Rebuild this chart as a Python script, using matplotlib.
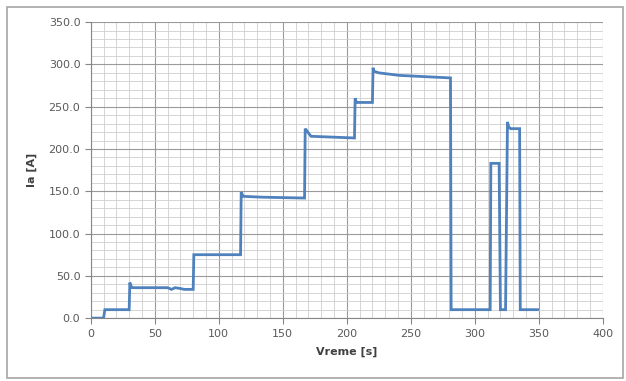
import matplotlib.pyplot as plt
from matplotlib.patches import Rectangle

# time [s] and current [A]
t = [0, 10, 11, 30, 30.5, 32, 40, 60, 63, 66, 70, 73, 80, 80.5, 117, 117.5, 119, 134, 166.5,
     167, 167.5, 172, 206, 206.5, 207.5, 220, 220.5, 221, 225, 241, 281, 281.5,
     312, 312.5, 319, 320, 324, 325.5, 326.5, 328, 335, 335.5, 349]
ia = [0, 0, 10, 10, 42, 36, 36, 36, 34, 36, 35, 34, 34, 75, 75, 149, 144, 143, 142,
      142, 224, 215, 213, 260, 255, 255, 296, 292, 290, 287, 284, 10,
      10, 183, 183, 10, 10, 232, 226, 224, 224, 10, 10]

x_ticks = [0, 50, 100, 150, 200, 250, 300, 350, 400]
y_ticks = [0, 50, 100, 150, 200, 250, 300, 350]

fig = plt.figure(figsize=(6.26, 3.81), dpi=100)
fig.patches.append(Rectangle((0.011, 0.008), 0.984, 0.974, transform=fig.transFigure,
                             fill=False, edgecolor='#a6a6a6', linewidth=1.2))
ax = fig.add_axes([0.145, 0.165, 0.818, 0.777])

ax.plot(t, ia, color='#4f81bd', linewidth=2.0, solid_joinstyle='miter')

ax.set_xlim(0, 400)
ax.set_ylim(0, 350)
ax.set_xticks(x_ticks)
ax.set_yticks(y_ticks)
ax.set_xticks(range(0, 401, 10), minor=True)
ax.set_yticks(range(0, 351, 10), minor=True)
ax.set_yticklabels(['%.1f' % v for v in y_ticks])
ax.grid(which='major', color='#9a9a9a', linewidth=0.8)
ax.grid(which='minor', color='#cfcfcf', linewidth=0.6)
ax.set_axisbelow(True)

for s in ['top', 'right']:
    ax.spines[s].set_visible(False)
for s in ['left', 'bottom']:
    ax.spines[s].set_color('#868686')
ax.tick_params(which='major', length=4, color='#868686', labelsize=8, labelcolor='#595959')
ax.tick_params(which='minor', length=0)

ax.set_xlabel('Vreme [s]', fontweight='bold', fontsize=8, color='#404040', labelpad=6)
ax.set_ylabel('Ia [A]', fontweight='bold', fontsize=8, color='#404040', labelpad=8)

fig.savefig('out.png', dpi=100)
